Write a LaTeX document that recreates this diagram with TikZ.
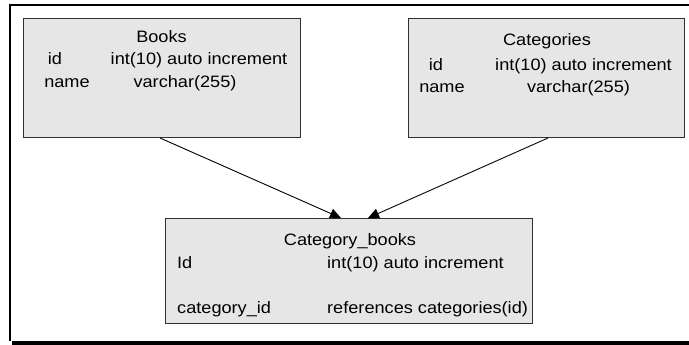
\documentclass[tikz,border=0pt]{standalone}
\usepackage{fontspec}
\setmainfont{Liberation Sans}[FakeStretch=1.1]
\usetikzlibrary{arrows.meta}
\definecolor{boxfill}{HTML}{E6E6E6}
\definecolor{boxline}{HTML}{303030}
\begin{document}
\begin{tikzpicture}[x=1pt,y=-1pt,
  table/.style={draw=boxline,fill=boxfill,line width=1pt,inner sep=0pt,outer sep=0pt},
  txt/.style={inner sep=0pt,font=\fontsize{16.5}{19}\selectfont,text=black},
  conn/.style={draw=black,line width=0.9pt,-{Triangle[length=11pt,width=10pt]}}]
\useasboundingbox (0,0) rectangle (689,345);
% outer frame
\draw[line width=2pt,black] (689,5) -- (10,5) -- (10,341);
\fill[black] (12,341) rectangle (689,345);
% boxes
\node[table,minimum width=277pt,minimum height=119pt] (books) at (161.5,78.5) {};
\node[table,minimum width=276pt,minimum height=119pt] (cats) at (546,78.5) {};
\node[table,minimum width=367pt,minimum height=105pt] (cb) at (348.5,270.5) {};
% Books text
\node[txt,anchor=base] (bt) at (161.5,43) {Books};
\node[txt,anchor=base] (bid) at (55,64.5) {id};
\node[txt,anchor=base] (bidt) at (199,64.5) {int(10) auto increment};
\node[txt,anchor=base] (bn) at (67,88) {name};
\node[txt,anchor=base] (bnt) at (185,88) {varchar(255)};
% Categories text
\node[txt,anchor=base] (ct) at (547,45.5) {Categories};
\node[txt,anchor=base] (cid) at (436,71) {id};
\node[txt,anchor=base] (cidt) at (583.5,71) {int(10) auto increment};
\node[txt,anchor=base] (cn) at (442,93) {name};
\node[txt,anchor=base] (cnt) at (578.5,93) {varchar(255)};
% Category_books text
\node[txt,anchor=base] (cbt) at (350,245) {Category\_books};
\node[txt,anchor=base west] (cbid) at (177,268.5) {Id};
\node[txt,anchor=base west] (cbidt) at (327,268.5) {int(10) auto increment};
\node[txt,anchor=base west] (cbc) at (177,313) {category\_id};
\node[txt,anchor=base west] (cbct) at (327,313) {references categories(id)};
% connectors
\coordinate (bs) at ([xshift=-1.5pt]books.south);
\coordinate (cs) at ([xshift=2pt]cats.south);
\draw[conn] (bs) -- ([xshift=-7.5pt]cb.north);
\draw[conn] (cs) -- ([xshift=19.5pt]cb.north);
\end{tikzpicture}
\end{document}
